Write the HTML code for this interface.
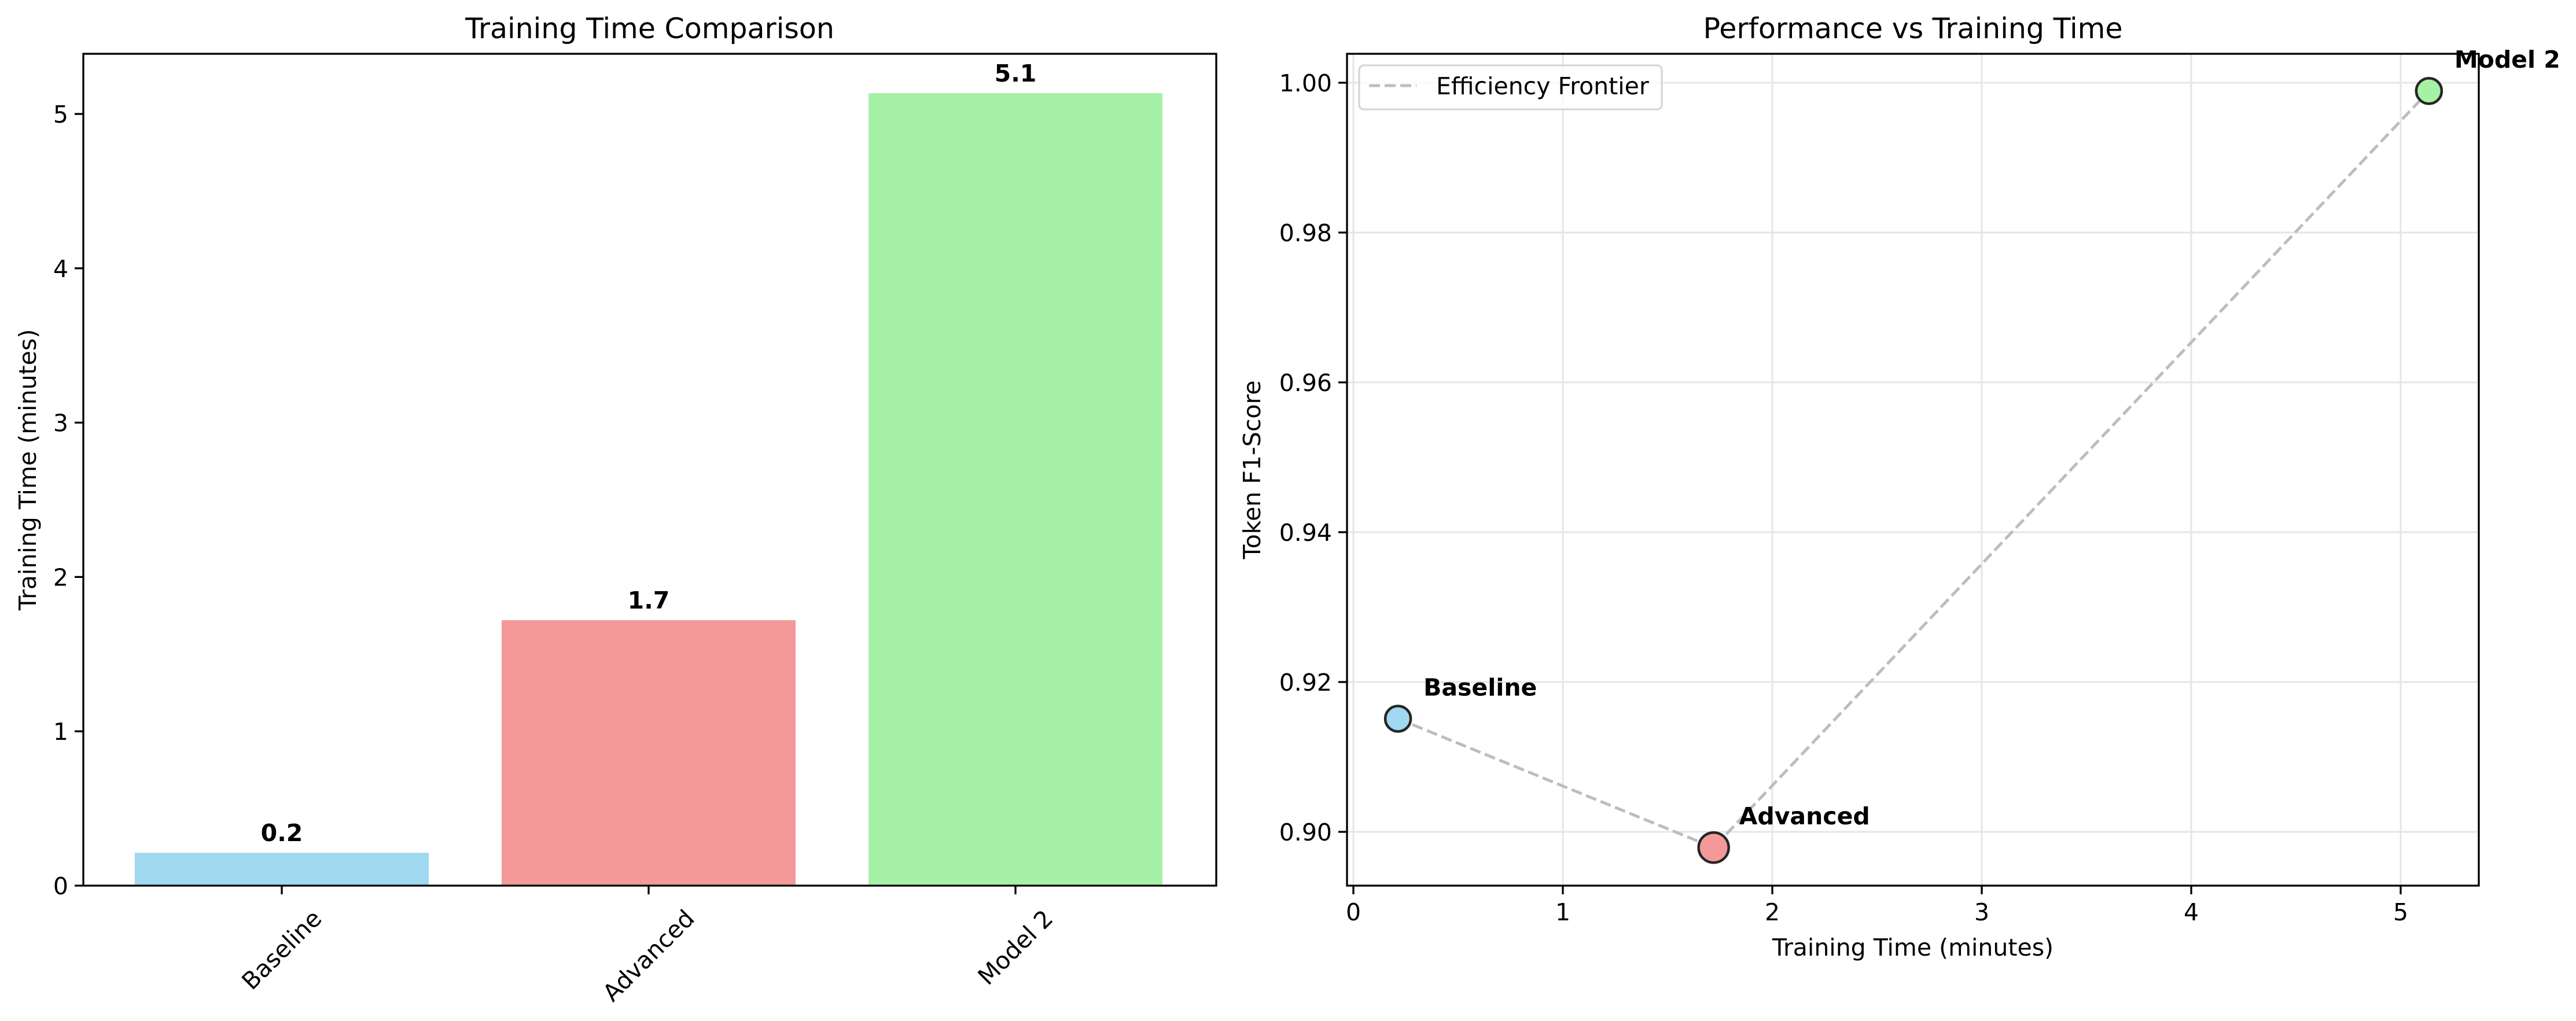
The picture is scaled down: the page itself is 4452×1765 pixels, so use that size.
<!DOCTYPE html>
<html><head><meta charset="utf-8"><style>
html,body{margin:0;padding:0;background:#fff;}
svg{display:block;font-family:"DejaVu Sans","Liberation Sans",sans-serif;}
</style></head><body>
<svg id="c" width="4452" height="1765" viewBox="0 0 4452 1765" xmlns="http://www.w3.org/2000/svg"></svg>
<script>
const categories = ["Baseline", "Advanced", "Model 2"];
const trainTimes = [0.213, 1.72, 5.135];
const barLabels = ["0.2", "1.7", "5.1"];
const f1Scores = [0.9151, 0.8979, 0.9989];
const markerSizes = [22, 26, 22];
const leftYTicks = [0, 1, 2, 3, 4, 5];
const rightXTicks = [0, 1, 2, 3, 4, 5];
const rightYTicks = [0.90, 0.92, 0.94, 0.96, 0.98, 1.00];
const rightYTickLabels = ["0.90", "0.92", "0.94", "0.96", "0.98", "1.00"];
const colors = ["#9fd8ef", "#f39999", "#a6f1a6"];

const NS = "http://www.w3.org/2000/svg";
const svg = document.getElementById("c");
function mk(tag, attrs, parent, text) {
  const e = document.createElementNS(NS, tag);
  for (const k in attrs) e.setAttribute(k, attrs[k]);
  if (text !== undefined) e.textContent = text;
  (parent || svg).appendChild(e);
  return e;
}

// ---- Left chart ----
const L = {x0: 144, x1: 2102, y0: 93, y1: 1531};
const lx = i => 487 + i * 634;
const ly = v => 1531 - v * 266.8;
const gL = mk("g", {});


categories.forEach((c, i) => {
  const r = mk("rect", {x: lx(i) - 254, y: ly(trainTimes[i]), width: 508, height: ly(0) - ly(trainTimes[i]), fill: colors[i]}, gL);
  
  
  const t = mk("text", {x: lx(i), y: ly(trainTimes[i]) - 20, "text-anchor": "middle", "font-size": 41, "font-weight": "bold"}, gL, barLabels[i]);
  
  
  const tk = mk("line", {x1: lx(i), x2: lx(i), y1: 1531, y2: 1546, stroke: "#000", "stroke-width": 3.3}, gL);
  
  
  const tl = mk("text", {"text-anchor": "middle", "font-size": 41, "dominant-baseline": "central"}, gL, c);
  
  
  const w = tl.getComputedTextLength();
  const half = (w + 41) / (2 * Math.SQRT2);
  tl.setAttribute("transform", `translate(${lx(i)},${1566 + half}) rotate(-45)`);
});
leftYTicks.forEach(v => {
  const tk = mk("line", {x1: 129, x2: 144, y1: ly(v), y2: ly(v), stroke: "#000", "stroke-width": 3.3}, gL);
  
  
  const t = mk("text", {x: 118, y: ly(v) + 15, "text-anchor": "end", "font-size": 41}, gL, String(v));
  
  
});
const fr1 = mk("rect", {x: L.x0, y: L.y0, width: L.x1 - L.x0, height: L.y1 - L.y0, fill: "none", stroke: "#000", "stroke-width": 3.3}, gL);


const t1 = mk("text", {x: 1123, y: 66, "text-anchor": "middle", "font-size": 49}, gL, "Training Time Comparison");


const yl1 = mk("text", {x: 0, y: 0, "text-anchor": "middle", "font-size": 41, transform: "translate(62,812) rotate(-90)"}, gL, "Training Time (minutes)");



// ---- Right chart ----
const R = {x0: 2328, x1: 4284, y0: 93, y1: 1531};
const rx = v => 2339 + v * 362;
const ry = v => 1438 - (v - 0.90) / 0.02 * 259;
const gR = mk("g", {});


rightXTicks.forEach(v => {
  const g = mk("line", {x1: rx(v), x2: rx(v), y1: R.y0, y2: R.y1, stroke: "#e6e6e6", "stroke-width": 3}, gR);
  
  
  const tk = mk("line", {x1: rx(v), x2: rx(v), y1: 1531, y2: 1546, stroke: "#000", "stroke-width": 3.3}, gR);
  
  
  const t = mk("text", {x: rx(v), y: 1591, "text-anchor": "middle", "font-size": 41}, gR, String(v));
  
  
});
rightYTicks.forEach((v, i) => {
  const g = mk("line", {x1: R.x0, x2: R.x1, y1: ry(v), y2: ry(v), stroke: "#e6e6e6", "stroke-width": 3}, gR);
  
  
  const tk = mk("line", {x1: 2313, x2: 2328, y1: ry(v), y2: ry(v), stroke: "#000", "stroke-width": 3.3}, gR);
  
  
  const t = mk("text", {x: 2302, y: ry(v) + 15, "text-anchor": "end", "font-size": 41}, gR, rightYTickLabels[i]);
  
  
});
const pts = trainTimes.map((t, i) => rx(t) + "," + ry(f1Scores[i])).join(" ");
const line = mk("polyline", {points: pts, fill: "none", stroke: "#bdbdbd", "stroke-width": 5, "stroke-dasharray": "19,8"}, gR);


categories.forEach((c, i) => {
  const p = mk("circle", {cx: rx(trainTimes[i]), cy: ry(f1Scores[i]), r: markerSizes[i], fill: colors[i], stroke: "#262626", "stroke-width": 4.5}, gR);
  
  
  const t = mk("text", {x: rx(trainTimes[i]) + 44, y: ry(f1Scores[i]) - 40, "font-size": 41, "font-weight": "bold"}, gR, c);
  
  
});
const fr2 = mk("rect", {x: R.x0, y: R.y0, width: R.x1 - R.x0, height: R.y1 - R.y0, fill: "none", stroke: "#000", "stroke-width": 3.3}, gR);


const lg = mk("g", {}, gR);


mk("rect", {x: 2349, y: 113, width: 523, height: 76, rx: 8, fill: "#fff", "fill-opacity": 0.8, stroke: "#d6d6d6", "stroke-width": 3.3}, lg);
const ll = mk("line", {x1: 2366, x2: 2448, y1: 148, y2: 148, stroke: "#bdbdbd", "stroke-width": 5, "stroke-dasharray": "19,8"}, lg);


const lt = mk("text", {x: 2482, y: 163, "font-size": 41}, lg, "Efficiency Frontier");


const t2 = mk("text", {x: 3306, y: 66, "text-anchor": "middle", "font-size": 49}, gR, "Performance vs Training Time");


const xl2 = mk("text", {x: 3306, y: 1652, "text-anchor": "middle", "font-size": 41}, gR, "Training Time (minutes)");


const yl2 = mk("text", {x: 0, y: 0, "text-anchor": "middle", "font-size": 41, transform: "translate(2178,812) rotate(-90)"}, gR, "Token F1-Score");


</script>
</body></html>
